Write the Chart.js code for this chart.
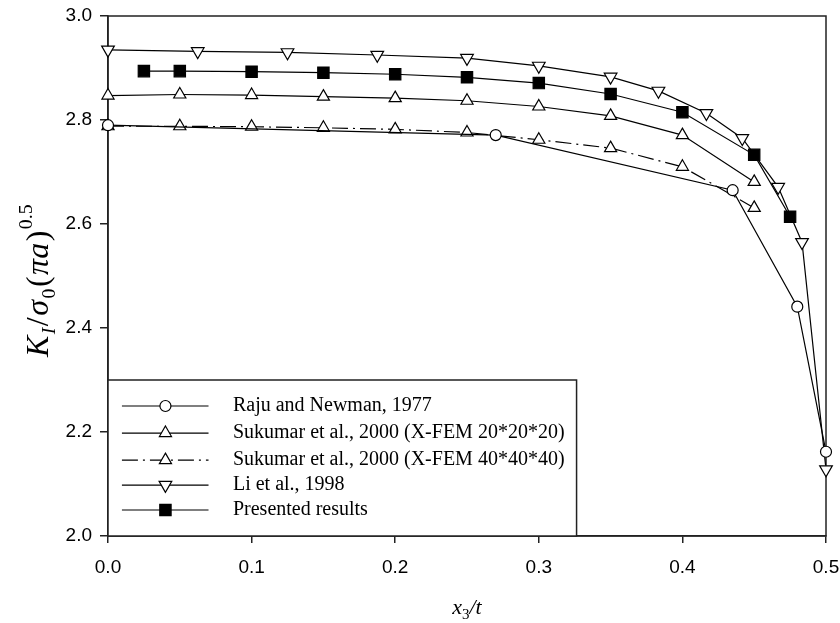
<!DOCTYPE html>
<html>
<head>
<meta charset="utf-8">
<script src="https://cdn.jsdelivr.net/npm/chart.js@4.4.0/dist/chart.umd.min.js"></script>
<style>html,body{margin:0;background:#fff}</style>
</head>
<body>
<canvas id="c" width="840" height="623"></canvas>
<script>
// values
const rajuX=[0,0.27,0.435,0.48,0.5];
const rajuY=[2.790,2.771,2.665,2.441,2.162];
const sukX=[0,0.05,0.1,0.15,0.2,0.25,0.3,0.35,0.4,0.45];
const suk20Y=[2.847,2.849,2.848,2.845,2.842,2.837,2.826,2.808,2.771,2.681];
const suk40Y=[2.788,2.788,2.787,2.785,2.782,2.776,2.762,2.746,2.710,2.631];
const liX=[0,0.0625,0.125,0.1875,0.25,0.3,0.35,0.3833,0.4167,0.4417,0.4667,0.4833,0.5];
const liY=[2.935,2.932,2.930,2.925,2.919,2.904,2.883,2.856,2.813,2.765,2.671,2.565,2.128];
const presX=[0.025,0.05,0.1,0.15,0.2,0.25,0.3,0.35,0.4,0.45,0.475];
const presY=[2.894,2.894,2.893,2.891,2.888,2.882,2.871,2.850,2.815,2.733,2.614];
const labels=["Raju and Newman, 1977","Sukumar et al., 2000 (X-FEM 20*20*20)","Sukumar et al., 2000 (X-FEM 40*40*40)","Li et al., 1998","Presented results"];

const pts=(xs,ys)=>xs.map((x,i)=>({x:x,y:ys[i]}));
const base={showLine:true,borderColor:"#000",borderWidth:1.2,pointBackgroundColor:"#fff",pointBorderColor:"#000",pointBorderWidth:1.2,tension:0,clip:false};

// frame round the plot
const frame={id:"frame",beforeDatasetsDraw(chart){
  const {ctx,chartArea:a}=chart;
  ctx.save();
  ctx.strokeStyle="#222";ctx.lineWidth=1.5;
  ctx.strokeRect(a.left,a.top,a.right-a.left,a.bottom-a.top);
  ctx.restore();
}};

// legend box inside the plot, bottom left
const legendBox={id:"legendBox",afterDatasetsDraw(chart){
  const {ctx,chartArea:a,scales:{x,y}}=chart;
  ctx.save();
  ctx.font='20px "Liberation Serif"';
  const tx=x.getPixelForValue(0.087);
  const w=Math.max(...chart.data.datasets.map(d=>ctx.measureText(d.label).width));
  const top=y.getPixelForValue(2.30);
  ctx.fillStyle="#fff";
  ctx.fillRect(a.left,top,tx+w+12-a.left,a.bottom-top);
  ctx.strokeStyle="#222";ctx.lineWidth=1.5;
  ctx.strokeRect(a.left,top,tx+w+12-a.left,a.bottom-top);
  const rowY=[2.25,2.198,2.146,2.098,2.05];
  chart.data.datasets.forEach((d,i)=>{
    const yy=y.getPixelForValue(rowY[i]);
    ctx.save();
    ctx.strokeStyle="#000";ctx.lineWidth=1.2;
    ctx.setLineDash(d.borderDash||[]);
    ctx.beginPath();ctx.moveTo(x.getPixelForValue(0.0097),yy);ctx.lineTo(x.getPixelForValue(0.070),yy);ctx.stroke();
    ctx.restore();
    ctx.fillStyle=d.pointBackgroundColor;ctx.strokeStyle="#000";ctx.lineWidth=1.2;
    Chart.helpers.drawPoint(ctx,{pointStyle:d.pointStyle,radius:d.pointRadius,rotation:d.pointRotation||0,borderWidth:1.2},x.getPixelForValue(0.040),yy);
    ctx.fillStyle="#000";ctx.textBaseline="middle";ctx.textAlign="left";
    ctx.fillText(d.label,tx,yy);
  });
  ctx.restore();
}};

// axis titles with sub/superscripts
function runs(ctx,parts,cx,cy,size,r,gap){
  const fnt=p=>(p.i?"italic ":"")+(p.s?size*r:size)+'px "Liberation Serif"';
  const m=parts.map(p=>{ctx.font=fnt(p);return ctx.measureText(p.t).width+gap;});
  let xx=cx-m.reduce((a,b)=>a+b,0)/2;
  parts.forEach((p,k)=>{
    ctx.font=fnt(p);
    const dy=p.s==="sub"?size*0.3:p.s==="sup"?-size*0.42:0;
    ctx.fillText(p.t,xx,cy+dy);
    xx+=m[k];
  });
}
const titles={id:"titles",afterDraw(chart){
  const {ctx,chartArea:a}=chart;
  ctx.save();
  ctx.fillStyle="#000";ctx.textBaseline="middle";ctx.textAlign="left";
  runs(ctx,[{t:"x",i:1},{t:"3",s:"sub"},{t:"/t",i:1}],(a.left+a.right)/2,608,22,0.68,0);
  ctx.translate(40,280);
  ctx.rotate(-Math.PI/2);
  runs(ctx,[{t:"K",i:1},{t:"I",i:1,s:"sub"},{t:"/",i:0},{t:"σ",i:1},{t:"0",s:"sub"},{t:"(",i:0},{t:"πa",i:1},{t:")",i:0},{t:"0.5",s:"sup"}],0,0,32,0.62,1.5);
  ctx.restore();
}};

new Chart(document.getElementById("c"),{
  type:"scatter",
  data:{datasets:[
    {...base,label:labels[0],data:pts(rajuX,rajuY),pointStyle:"circle",pointRadius:5.5},
    {...base,label:labels[1],data:pts(sukX,suk20Y),pointStyle:"triangle",pointRadius:7},
    {...base,label:labels[2],data:pts(sukX,suk40Y),pointStyle:"triangle",pointRadius:7,borderDash:[16,5,2,5]},
    {...base,label:labels[3],data:pts(liX,liY),pointStyle:"triangle",pointRotation:180,pointRadius:7.3},
    {...base,label:labels[4],data:pts(presX,presY),pointStyle:"rect",pointRadius:8,pointBackgroundColor:"#000"}
  ]},
  options:{
    responsive:false,animation:false,
    layout:{padding:{left:0,top:16,right:14,bottom:0}},
    plugins:{legend:{display:false},tooltip:{enabled:false}},
    scales:{
      x:{type:"linear",min:0,max:0.5,
        afterFit:s=>{s.height=87;s.paddingLeft=0;s.paddingRight=0;},
        border:{display:true,color:"#222",width:1.5},
        grid:{display:true,drawOnChartArea:false,drawTicks:true,tickLength:7,color:"#222",lineWidth:1.5},
        ticks:{stepSize:0.1,padding:13,color:"#000",font:{family:"Liberation Sans",size:19},callback:v=>v.toFixed(1)}},
      y:{type:"linear",min:2.0,max:3.0,
        afterFit:s=>{s.width=108;s.paddingTop=0;s.paddingBottom=0;},
        border:{display:true,color:"#222",width:1.5},
        grid:{display:true,drawOnChartArea:false,drawTicks:true,tickLength:8,color:"#222",lineWidth:1.5},
        ticks:{stepSize:0.2,padding:8,color:"#000",font:{family:"Liberation Sans",size:19},callback:v=>v.toFixed(1)}}
    }
  },
  plugins:[frame,legendBox,titles]
});
</script>
</body>
</html>
